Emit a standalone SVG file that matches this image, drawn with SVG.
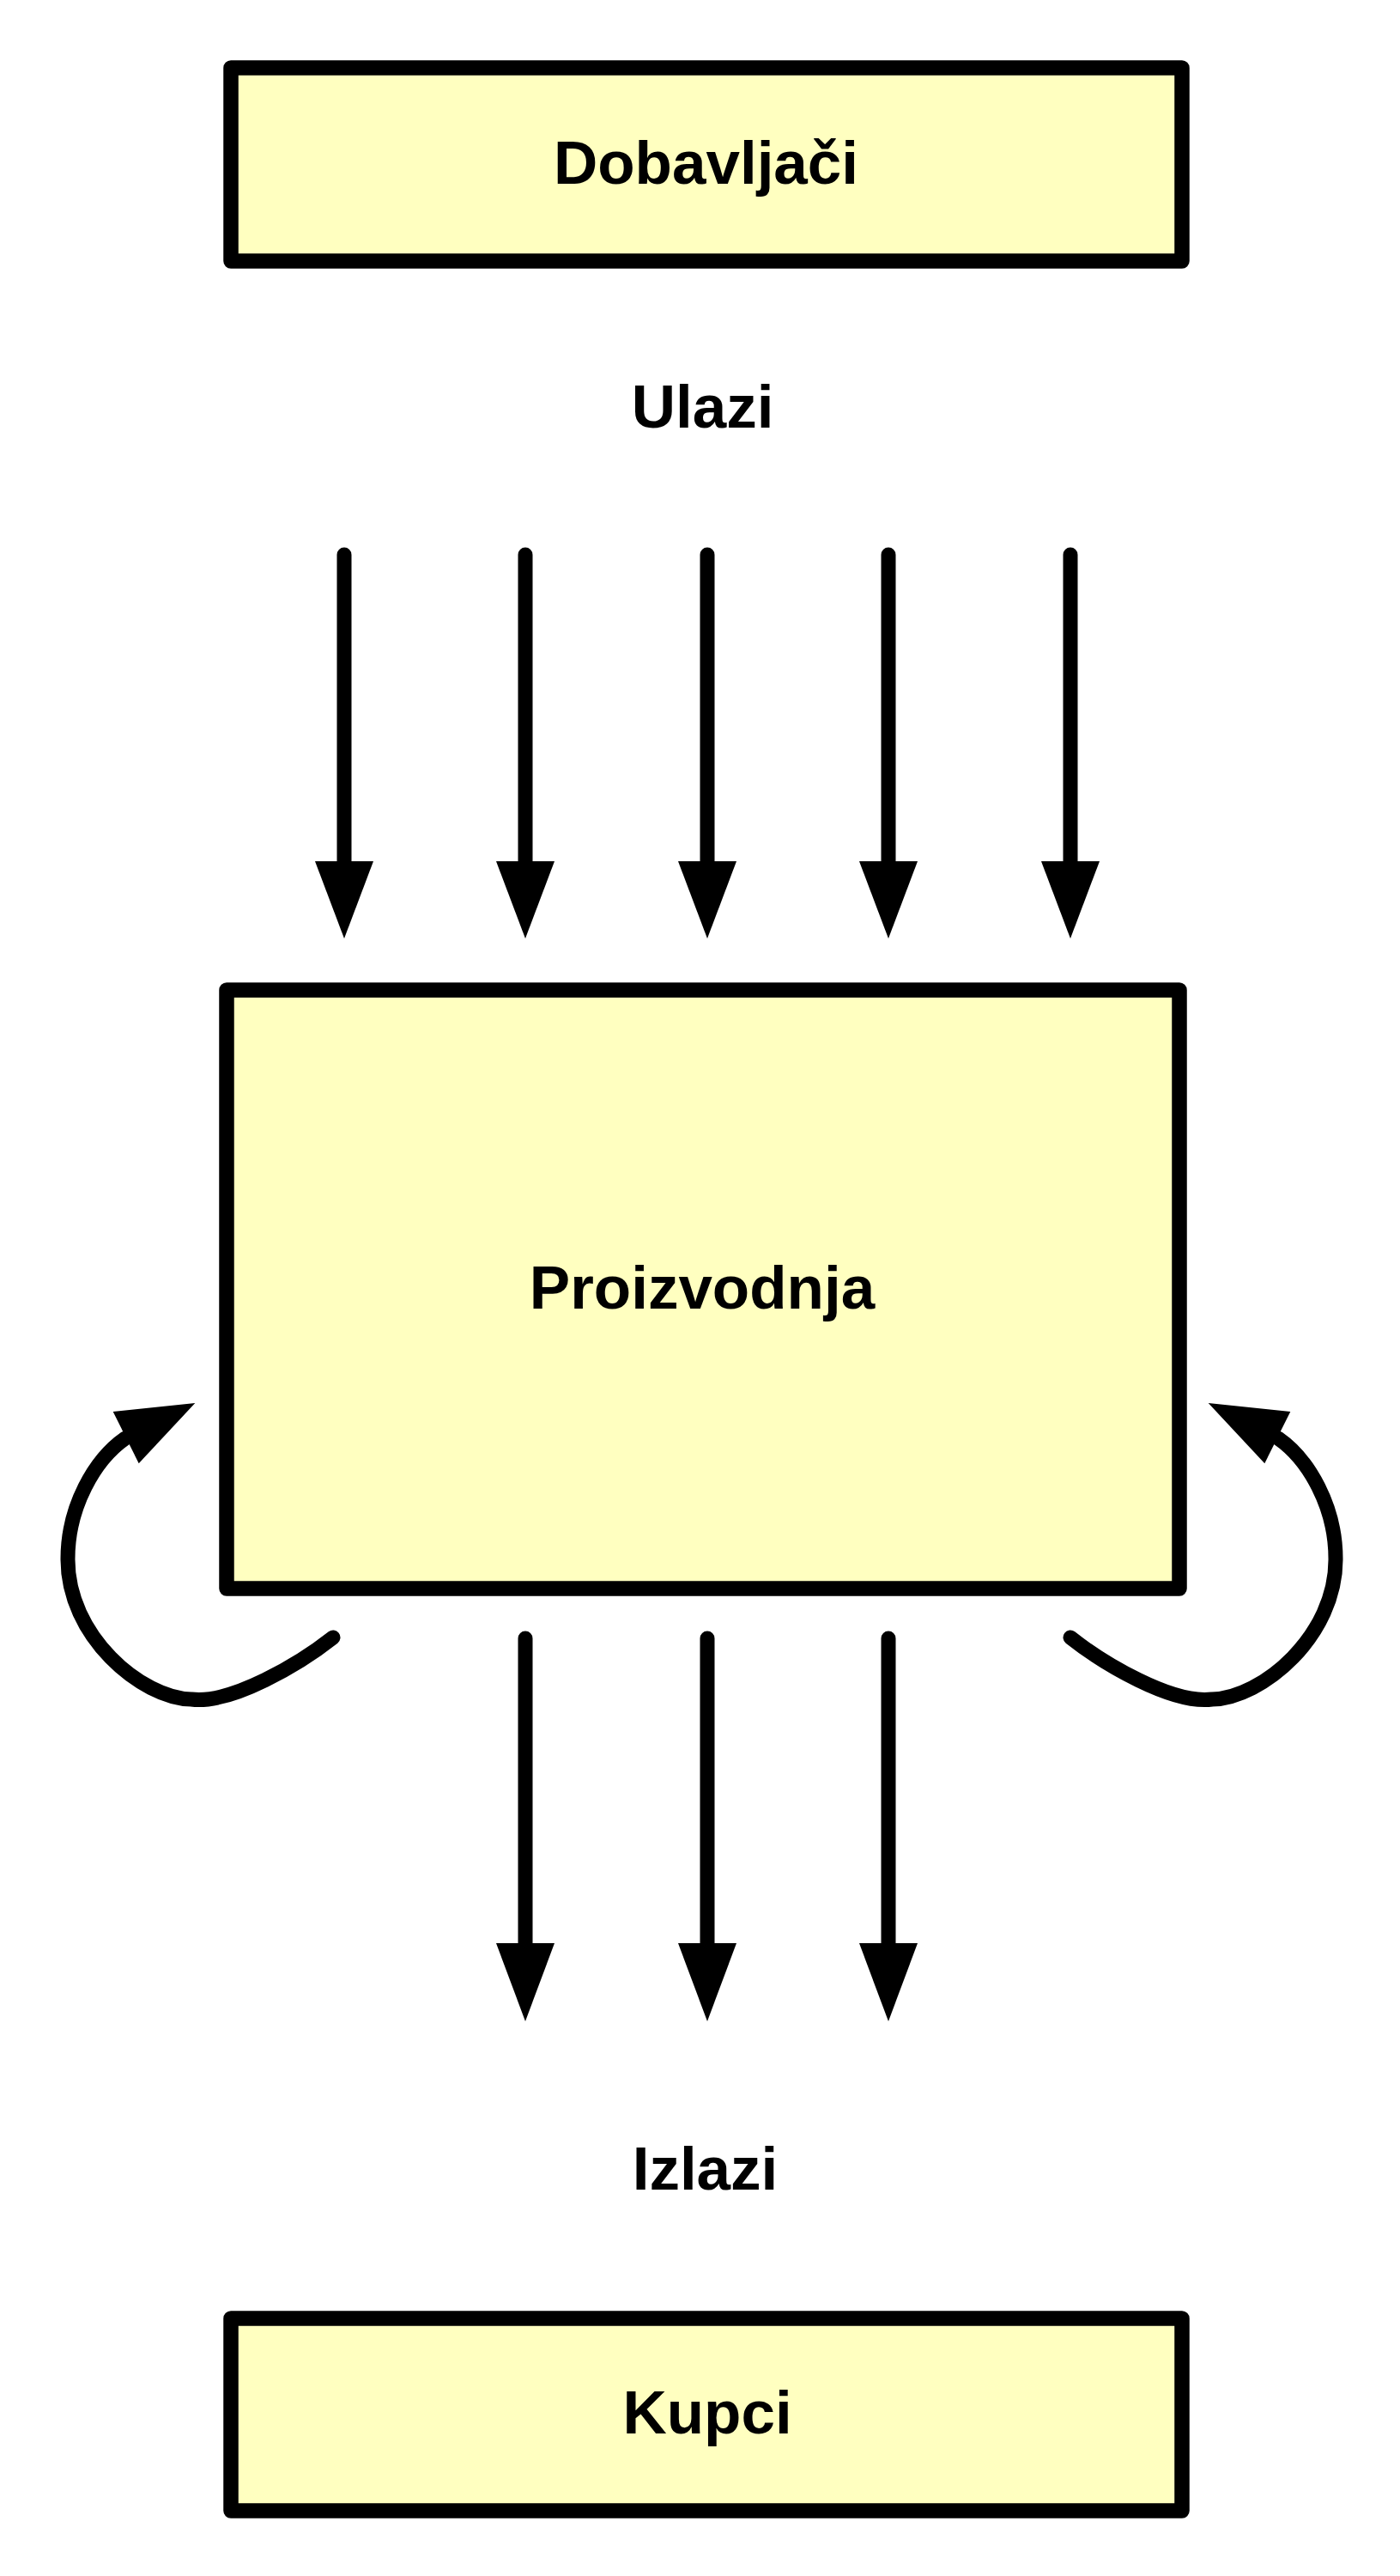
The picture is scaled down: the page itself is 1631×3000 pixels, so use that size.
<svg xmlns="http://www.w3.org/2000/svg" width="1631" height="3000" viewBox="0 0 1631 3000">
<style>
.box{fill:#FFFFC0;stroke:#000;stroke-width:17.5;stroke-linejoin:round}
.lbl{font-family:"Liberation Sans",Arial,sans-serif;font-weight:bold;font-size:71px;fill:#000;text-anchor:middle}
.ln{fill:none;stroke:#000;stroke-width:17;stroke-linecap:round}
.hd{fill:#000;stroke:none}
</style>
<defs>
<path id="loop" d="M388,1907 C350,1937 270,1985 223,1979 C165,1978 78,1905 79,1815 C79,1755 110,1700 146,1675"/>
<polygon id="loophead" points="131.7,1644 227.3,1634 161.7,1704.3"/>
</defs>
<rect width="1631" height="3000" fill="#fff"/>
<g id="node-dobavljaci">
<rect class="box" x="269" y="79" width="1108" height="225"/>
<text class="lbl" x="822.5" y="214">Dobavljači</text>
</g>
<g id="node-ulazi">
<text class="lbl" x="818.5" y="497.5">Ulazi</text>
</g>
<g id="node-proizvodnja">
<rect class="box" x="264" y="1153" width="1110" height="697"/>
<text class="lbl" x="818" y="1524">Proizvodnja</text>
</g>
<g id="node-izlazi">
<text class="lbl" x="821.5" y="2550">Izlazi</text>
</g>
<g id="node-kupci">
<rect class="box" x="269" y="2700" width="1108" height="224"/>
<text class="lbl" x="824" y="2833.5">Kupci</text>
</g>
<g id="connectors">
<line class="ln" x1="401" y1="646" x2="401" y2="1004"/>
<polygon class="hd" points="367,1003 435,1003 401,1093"/>
<line class="ln" x1="612" y1="646" x2="612" y2="1004"/>
<polygon class="hd" points="578,1003 646,1003 612,1093"/>
<line class="ln" x1="824" y1="646" x2="824" y2="1004"/>
<polygon class="hd" points="790,1003 858,1003 824,1093"/>
<line class="ln" x1="1035" y1="646" x2="1035" y2="1004"/>
<polygon class="hd" points="1001,1003 1069,1003 1035,1093"/>
<line class="ln" x1="1247" y1="646" x2="1247" y2="1004"/>
<polygon class="hd" points="1213,1003 1281,1003 1247,1093"/>
<line class="ln" x1="612" y1="1908" x2="612" y2="2264"/>
<polygon class="hd" points="578,2263 646,2263 612,2354"/>
<line class="ln" x1="824" y1="1908" x2="824" y2="2264"/>
<polygon class="hd" points="790,2263 858,2263 824,2354"/>
<line class="ln" x1="1035" y1="1908" x2="1035" y2="2264"/>
<polygon class="hd" points="1001,2263 1069,2263 1035,2354"/>
<use href="#loop" class="ln"/>
<use href="#loophead" class="hd"/>
<g transform="translate(1635,0) scale(-1,1)">
<use href="#loop" class="ln"/>
<use href="#loophead" class="hd"/>
</g>
</g>
</svg>
